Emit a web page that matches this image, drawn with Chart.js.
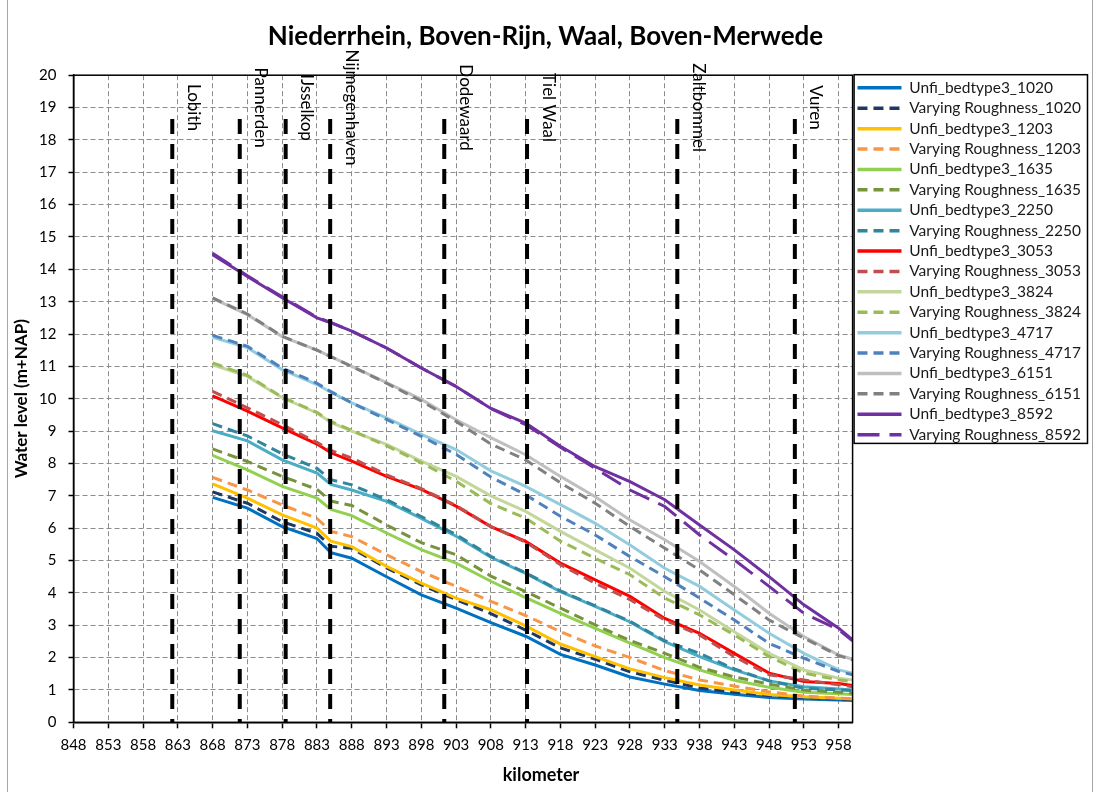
<!DOCTYPE html>
<html>
<head>
<meta charset="utf-8">
<title>Niederrhein, Boven-Rijn, Waal, Boven-Merwede</title>
<script src="https://cdn.jsdelivr.net/npm/chart.js@4.4.1/dist/chart.umd.min.js"></script>
<style>
  html, body { margin: 0; padding: 0; background: #fff; }
</style>
</head>
<body>
<canvas id="profileChart" width="1097" height="792"></canvas>
<script>
const km = [868, 873, 878, 883, 885, 888, 893, 898, 903, 908, 913, 918, 923, 928, 933, 938, 943, 948, 953, 958, 960];

// Water levels (m+NAP) per discharge
const unfi1020 = [6.95, 6.62, 6.05, 5.68, 5.24, 5.07, 4.50, 3.94, 3.53, 3.08, 2.66, 2.10, 1.77, 1.40, 1.18, 0.98, 0.87, 0.77, 0.72, 0.69, 0.67];
const vary1020 = [7.12, 6.77, 6.20, 5.84, 5.44, 5.38, 4.77, 4.25, 3.79, 3.36, 2.85, 2.30, 1.95, 1.56, 1.30, 1.06, 0.93, 0.83, 0.77, 0.72, 0.70];
const unfi1203 = [7.37, 6.93, 6.41, 6.00, 5.60, 5.43, 4.82, 4.30, 3.84, 3.48, 2.98, 2.42, 2.03, 1.65, 1.38, 1.15, 1.00, 0.86, 0.79, 0.74, 0.72];
const vary1203 = [7.57, 7.18, 6.72, 6.30, 5.90, 5.74, 5.18, 4.66, 4.20, 3.74, 3.30, 2.80, 2.36, 2.00, 1.60, 1.31, 1.12, 0.94, 0.81, 0.75, 0.73];
const unfi1635 = [8.25, 7.80, 7.29, 6.93, 6.58, 6.39, 5.85, 5.34, 4.92, 4.36, 3.85, 3.37, 2.90, 2.45, 2.00, 1.62, 1.30, 1.08, 0.93, 0.88, 0.86];
const vary1635 = [8.45, 8.06, 7.60, 7.20, 6.84, 6.70, 6.10, 5.55, 5.18, 4.52, 4.04, 3.53, 3.01, 2.53, 2.13, 1.70, 1.40, 1.18, 1.00, 0.93, 0.90];
const unfi2250 = [9.01, 8.70, 8.11, 7.70, 7.35, 7.18, 6.83, 6.30, 5.75, 5.10, 4.60, 4.04, 3.58, 3.10, 2.49, 2.03, 1.62, 1.28, 1.10, 1.03, 1.00];
const vary2250 = [9.23, 8.85, 8.30, 7.85, 7.50, 7.34, 6.88, 6.36, 5.80, 5.13, 4.62, 4.06, 3.60, 3.12, 2.52, 2.13, 1.65, 1.28, 1.05, 1.00, 0.98];
const unfi3053 = [10.09, 9.62, 9.10, 8.60, 8.33, 8.07, 7.60, 7.20, 6.68, 6.05, 5.59, 4.92, 4.40, 3.89, 3.21, 2.75, 2.13, 1.52, 1.26, 1.20, 1.14];
const vary3053 = [10.23, 9.72, 9.20, 8.65, 8.40, 8.17, 7.65, 7.22, 6.70, 6.05, 5.57, 4.87, 4.30, 3.79, 3.16, 2.70, 2.03, 1.47, 1.31, 1.16, 1.10];
const unfi3824 = [11.05, 10.69, 10.03, 9.56, 9.27, 9.00, 8.59, 8.07, 7.60, 7.00, 6.52, 5.90, 5.33, 4.76, 4.04, 3.47, 2.80, 2.13, 1.62, 1.36, 1.31];
const vary3824 = [11.11, 10.72, 10.05, 9.58, 9.30, 9.02, 8.55, 8.02, 7.45, 6.76, 6.31, 5.60, 5.07, 4.56, 3.84, 3.32, 2.70, 2.03, 1.52, 1.31, 1.26];
const unfi4717 = [11.90, 11.58, 10.90, 10.44, 10.20, 9.87, 9.41, 8.90, 8.43, 7.77, 7.29, 6.73, 6.15, 5.48, 4.76, 4.20, 3.47, 2.75, 2.13, 1.62, 1.52];
const vary4717 = [11.96, 11.62, 10.95, 10.48, 10.22, 9.87, 9.36, 8.84, 8.28, 7.58, 7.03, 6.37, 5.79, 5.12, 4.50, 3.84, 3.16, 2.44, 1.98, 1.57, 1.47];
const unfi6151 = [13.10, 12.60, 11.92, 11.50, 11.30, 11.00, 10.50, 9.98, 9.35, 8.80, 8.27, 7.60, 6.97, 6.25, 5.64, 4.97, 4.20, 3.37, 2.65, 2.08, 1.95];
const vary6151 = [13.12, 12.62, 11.93, 11.50, 11.30, 11.00, 10.48, 9.93, 9.30, 8.60, 8.11, 7.40, 6.77, 6.05, 5.38, 4.71, 3.94, 3.16, 2.60, 2.06, 1.93];
const unfi8592 = [14.45, 13.78, 13.12, 12.50, 12.35, 12.09, 11.57, 10.95, 10.38, 9.70, 9.25, 8.53, 7.90, 7.44, 6.88, 6.10, 5.33, 4.50, 3.63, 2.91, 2.55];
const vary8592 = [14.50, 13.80, 13.15, 12.52, 12.35, 12.09, 11.57, 10.95, 10.38, 9.70, 9.20, 8.50, 7.85, 7.18, 6.67, 5.79, 5.02, 4.20, 3.37, 2.86, 2.52];

const seriesNames = [
    'Unfi_bedtype3_1020', 'Varying Roughness_1020',
    'Unfi_bedtype3_1203', 'Varying Roughness_1203',
    'Unfi_bedtype3_1635', 'Varying Roughness_1635',
    'Unfi_bedtype3_2250', 'Varying Roughness_2250',
    'Unfi_bedtype3_3053', 'Varying Roughness_3053',
    'Unfi_bedtype3_3824', 'Varying Roughness_3824',
    'Unfi_bedtype3_4717', 'Varying Roughness_4717',
    'Unfi_bedtype3_6151', 'Varying Roughness_6151',
    'Unfi_bedtype3_8592', 'Varying Roughness_8592'
];
const seriesValues = [
    unfi1020, vary1020, unfi1203, vary1203, unfi1635, vary1635,
    unfi2250, vary2250, unfi3053, vary3053, unfi3824, vary3824,
    unfi4717, vary4717, unfi6151, vary6151, unfi8592, vary8592
];

// Measuring stations along the river
const stationNames = ['Lobith', 'Pannerden', 'IJsselkop', 'Nijmegenhaven', 'Dodewaard', 'Tiel Waal', 'Zaltbommel', 'Vuren'];
const stationKm = [862.2, 871.9, 878.5, 884.9, 901.3, 913.2, 934.8, 951.7];
const stationTop = 18.65;
const stationLabelLevel = 19;

// Axis ticks
const xTicks = [848, 853, 858, 863, 868, 873, 878, 883, 888, 893, 898, 903, 908, 913, 918, 923, 928, 933, 938, 943, 948, 953, 958];
const yMin = 0;
const yMax = 20;

// Styling
const seriesColors = [
    '#0070C0', '#1F3864', '#FFC000', '#F79646', '#92D050', '#77933C',
    '#4BACC6', '#31859C', '#FF0000', '#C0504D', '#C3D69B', '#9BBB59',
    '#93CDDD', '#4F81BD', '#BFBFBF', '#808080', '#7030A0', '#7030A0'
];
const FONT = 'Lato, "Open Sans", sans-serif';
Chart.defaults.font.family = FONT;
Chart.defaults.color = '#000';

function dashFor(i) {
    if (i % 2 === 0) return [];
    if (i === 17) return [22, 10];
    return [10, 6];
}

const datasets = seriesValues.map((vals, i) => ({
    label: seriesNames[i],
    data: km.map((k, j) => ({ x: k, y: vals[j] })),
    borderColor: seriesColors[i],
    backgroundColor: seriesColors[i],
    borderWidth: 3,
    borderDash: dashFor(i),
    pointRadius: 0,
    pointStyle: 'line',
    tension: 0,
    fill: false,
    order: 100 - i
}));

stationNames.forEach((name, i) => {
    datasets.push({
        label: name,
        isStation: true,
        data: [{ x: stationKm[i], y: stationTop }, { x: stationKm[i], y: 0 }],
        borderColor: '#000',
        borderWidth: 4,
        borderDash: [15, 10],
        pointRadius: 0,
        fill: false,
        order: 0
    });
});

// Legend entries in dataset order, with the dash pattern of each line
function legendLabels(chart) {
    const items = Chart.defaults.plugins.legend.labels.generateLabels(chart);
    return items
        .filter(it => !datasets[it.datasetIndex].isStation)
        .sort((a, b) => a.datasetIndex - b.datasetIndex)
        .map(it => Object.assign(it, {
            pointStyle: 'line',
            lineWidth: 3.5,
            lineDash: datasets[it.datasetIndex].borderDash,
            strokeStyle: seriesColors[it.datasetIndex],
            fillStyle: seriesColors[it.datasetIndex]
        }));
}

// Frame, station labels, axis title and legend box
const decorations = {
    id: 'decorations',
    afterDraw(chart) {
        const { ctx, chartArea: a, scales: { x, y } } = chart;
        ctx.save();

        ctx.strokeStyle = '#000';
        ctx.lineWidth = 1.5;
        ctx.strokeRect(a.left, a.top, a.right - a.left, a.bottom - a.top);

        ctx.font = '17px ' + FONT;
        ctx.fillStyle = '#000';
        ctx.textAlign = 'center';
        ctx.textBaseline = 'middle';
        stationNames.forEach((name, i) => {
            ctx.save();
            ctx.translate(x.getPixelForValue(stationKm[i]) + 21, y.getPixelForValue(stationLabelLevel));
            ctx.rotate(Math.PI / 2);
            ctx.fillText(name, 0, 0);
            ctx.restore();
        });

        ctx.font = 'bold 18px ' + FONT;
        ctx.fillText('kilometer', 541, 775);

        const lg = chart.legend;
        const boxes = lg.legendHitBoxes;
        if (boxes && boxes.length) {
            const last = boxes[boxes.length - 1];
            const top = a.top - 0.5;
            const bottom = last.top + last.height + 1;
            ctx.lineWidth = 1.5;
            ctx.strokeRect(lg.left + 1.5, top, lg.right - lg.left - 5, bottom - top);
        }

        ctx.strokeStyle = '#A6A6A6';
        ctx.lineWidth = 1;
        ctx.beginPath();
        ctx.moveTo(7.5, 0); ctx.lineTo(7.5, 792);
        ctx.moveTo(1092.5, 0); ctx.lineTo(1092.5, 792);
        ctx.stroke();

        ctx.restore();
    }
};

new Chart(document.getElementById('profileChart'), {
    type: 'line',
    data: { datasets },
    options: {
        responsive: false,
        animation: false,
        layout: { padding: { left: 0, right: 6, top: 0, bottom: 0 } },
        plugins: {
            title: {
                display: true,
                text: 'Niederrhein, Boven-Rijn, Waal, Boven-Merwede',
                font: { size: 26, weight: 'bold' },
                color: '#000',
                padding: { top: 21, bottom: 23 }
            },
            legend: {
                position: 'right',
                align: 'start',
                fullSize: false,
                labels: {
                    usePointStyle: true,
                    pointStyleWidth: 44,
                    padding: 4.9,
                    color: '#1a1a1a',
                    font: { size: 15.5 },
                    generateLabels: legendLabels
                }
            },
            tooltip: { enabled: false }
        },
        scales: {
            x: {
                type: 'linear',
                min: 848,
                max: 960,
                afterBuildTicks: s => { s.ticks = xTicks.map(v => ({ value: v })); },
                afterFit: s => { s.height = 69.7; },
                ticks: { autoSkip: false, maxRotation: 0, padding: 8, font: { size: 15 }, color: '#000' },
                grid: { color: '#8C8C8C', lineWidth: 1, tickLength: 6, tickColor: '#000', tickWidth: 1.5 },
                border: { color: '#000', width: 1.5, dash: [5, 3] }
            },
            y: {
                min: yMin,
                max: yMax,
                afterFit: s => { s.width = 73.5; },
                ticks: { stepSize: 1, padding: 12, font: { size: 15 }, color: '#000' },
                grid: { color: '#8C8C8C', lineWidth: 1, tickLength: 5, tickColor: '#000', tickWidth: 1.5 },
                border: { color: '#000', width: 1.5, dash: [5, 3] },
                title: { display: true, text: 'Water level (m+NAP)', font: { size: 17, weight: 'bold' }, color: '#000', padding: { top: 11 } }
            }
        }
    },
    plugins: [decorations]
});
</script>
</body>
</html>
